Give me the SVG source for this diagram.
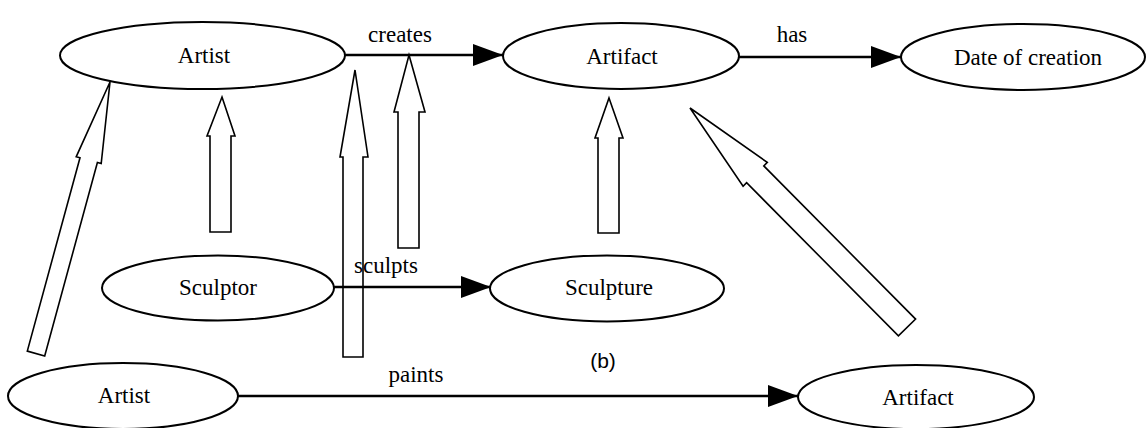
<svg xmlns="http://www.w3.org/2000/svg" width="1148" height="428" viewBox="0 0 1148 428">
<style>
.node ellipse{fill:#fff;stroke:#000;stroke-width:2}
text{font-family:"Liberation Serif","Times New Roman",serif;font-size:23px;fill:#000;text-anchor:middle}
.rel{stroke:#000;stroke-width:2.5;fill:none}
.isa{fill:none;stroke:#000;stroke-width:1.6;stroke-linejoin:miter}
.sans{font-family:"Liberation Sans",Arial,sans-serif;font-size:21px}
</style>
<defs>
<marker id="ah" markerUnits="userSpaceOnUse" markerWidth="30" markerHeight="22" refX="30" refY="11" orient="auto">
<path d="M0,0 L30,11 L0,22 z" fill="#000"/>
</marker>
</defs>
<rect width="1148" height="428" fill="#fff"/>
<g id="connectors">
<line class="rel" x1="345" y1="55" x2="503" y2="55" marker-end="url(#ah)"/>
<line class="rel" x1="739" y1="57" x2="901" y2="57" marker-end="url(#ah)"/>
<line class="rel" x1="334" y1="287" x2="491" y2="287" marker-end="url(#ah)"/>
<line class="rel" x1="238" y1="396" x2="798" y2="396" marker-end="url(#ah)"/>
<polygon class="isa" points="222,97 235,136 231,136 231,232 210,232 210,136 207,136"/>
<polygon class="isa" points="355,70 368,157 363,157 363,357 343,357 343,157 340,157"/>
<polygon class="isa" points="409,55 425,112 419,112 419,248 398,248 398,112 394,112"/>
<polygon class="isa" points="609,98 623,138 619,138 619,233 598,233 598,138 595,138"/>
<polygon class="isa" points="110,82 101.2,163.6 97.4,162.6 44.7,355.9 27.3,351.1 80,157.8 76.2,156.8"/>
<polygon class="isa" points="690,108 767.3,162.4 763.8,165.9 915.6,319.1 898.4,335.9 746.6,182.7 743.1,186.2"/>
<text x="400" y="42">creates</text>
<text x="792" y="42">has</text>
<text x="386" y="273">sculpts</text>
<text x="416" y="382">paints</text>
</g>
<g id="artist-top" class="node"><ellipse cx="202.5" cy="55.5" rx="142.5" ry="33.5"/><text x="204" y="63">Artist</text></g>
<g id="artifact-top" class="node"><ellipse cx="621" cy="56" rx="118" ry="33"/><text x="622" y="64">Artifact</text></g>
<g id="date" class="node"><ellipse cx="1023" cy="57" rx="122" ry="33"/><text x="1028" y="65">Date of creation</text></g>
<g id="sculptor" class="node"><ellipse cx="218" cy="288" rx="116" ry="32.5"/><text x="218" y="295">Sculptor</text></g>
<g id="sculpture" class="node"><ellipse cx="607" cy="288.5" rx="117" ry="33"/><text x="609" y="295">Sculpture</text></g>
<g id="artist-bottom" class="node"><ellipse cx="123" cy="396" rx="115" ry="33"/><text x="124" y="403">Artist</text></g>
<g id="artifact-bottom" class="node"><ellipse cx="916" cy="397" rx="118" ry="32"/><text x="918" y="405">Artifact</text></g>
<text class="sans" x="603" y="368">(b)</text>
</svg>
